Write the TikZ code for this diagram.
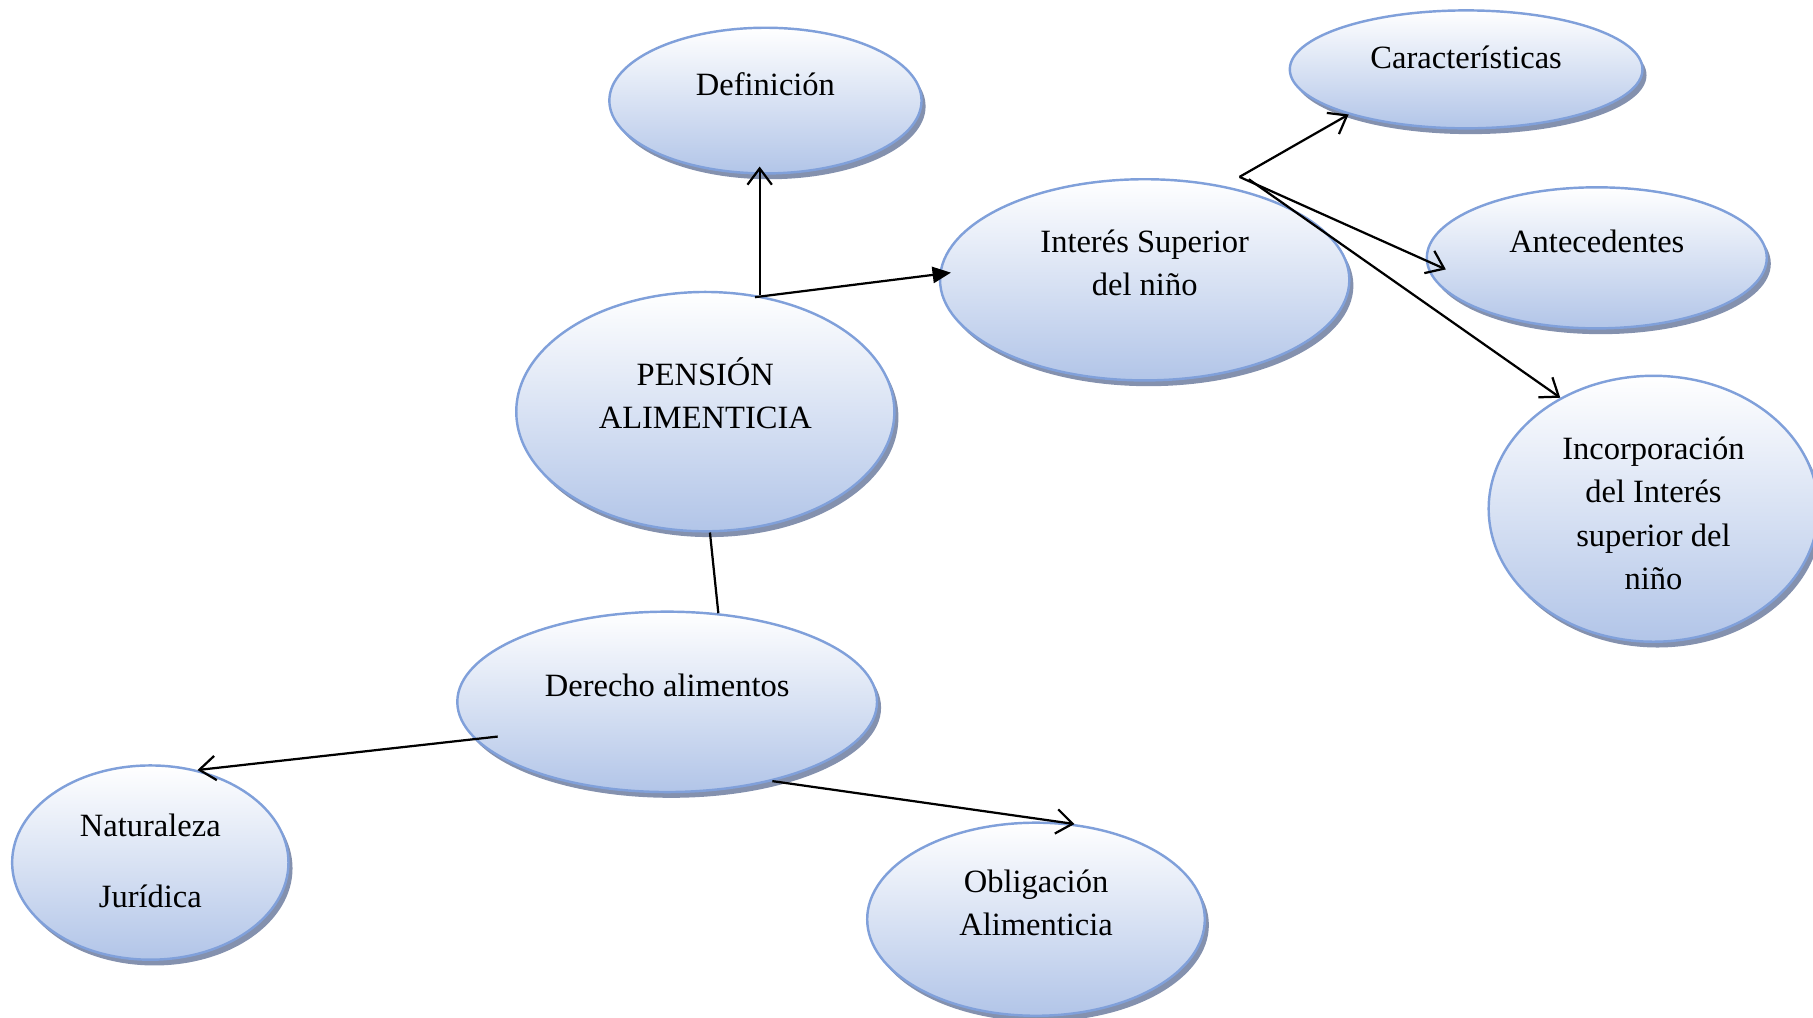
\documentclass[tikz,border=0pt]{standalone}
\usepackage{fontspec}
\setmainfont{Liberation Serif}
\usetikzlibrary{arrows.meta,shadows,shapes.geometric}

\definecolor{rimblue}{RGB}{128,160,218}
\definecolor{lowblue}{RGB}{178,197,232}
\definecolor{shadegray}{RGB}{132,145,174}

\tikzset{
  blob/.style={ellipse, draw=rimblue, line width=1.2pt, top color=white, bottom color=lowblue,
    drop shadow={shadow xshift=0.07cm, shadow yshift=-0.1cm, fill=shadegray, opacity=1}},
  txt/.style={align=center, font=\fontsize{16}{21}\selectfont},
  link/.style={line width=1.1pt, -{Straight Barb[length=8pt,width=12pt]}},
  plain/.style={line width=1.1pt}
}

\begin{document}
\begin{tikzpicture}
\useasboundingbox (0,0) rectangle (31.36,-17.6);

%ellipses
\node [blob, minimum width=5.4cm, minimum height=2.52cm] (def) at (13.24,-1.74){};
\node [blob, minimum width=6.1cm, minimum height=2.04cm] (car) at (25.36,-1.2){};
\node [blob, minimum width=7.08cm, minimum height=3.48cm] (int) at (19.8,-4.84){};
\node [blob, minimum width=5.88cm, minimum height=2.44cm] (ant) at (27.62,-4.46){};
\node [blob, minimum width=5.7cm, minimum height=4.6cm] (inc) at (28.6,-8.8){};
\node [blob, minimum width=6.54cm, minimum height=4.14cm] (pen) at (12.2,-7.12){};
\node [blob, minimum width=7.26cm, minimum height=3.12cm] (der) at (11.54,-12.14){};
\node [blob, minimum width=4.78cm, minimum height=3.36cm] (nat) at (2.6,-14.92){};
\node [blob, minimum width=5.84cm, minimum height=3.34cm] (obl) at (17.92,-15.9){};

%texts
\node [txt] (defT) at (13.24,-1.46){Definición};
\node [txt] (carT) at (25.36,-1.0){Características};
\node [txt] (intT) at (19.8,-4.55){Interés Superior\\del niño};
\node [txt] (antT) at (27.62,-4.18){Antecedentes};
\node [txt, font=\fontsize{16}{21.2}\selectfont] (incT) at (28.6,-8.88){Incorporación\\del Interés\\superior del\\niño};
\node [txt] (penT) at (12.2,-6.8){PENSIÓN\\ALIMENTICIA};
\node [txt] (derT) at (11.54,-11.86){Derecho alimentos};
\node [txt, font=\fontsize{16}{35}\selectfont] (natT) at (2.6,-14.89){Naturaleza\\Jurídica};
\node [txt] (oblT) at (17.92,-15.62){Obligación\\Alimenticia};

% junction points
\coordinate (up) at (13.14,-5.1);
\coordinate (fork) at (21.44,-3.06);
\coordinate (fork2) at (21.6,-3.1);

% connectors
\draw [link] (up) -- ([yshift=0.14cm]up |- def.south);
\draw [plain, -{Triangle[length=9pt,width=8pt]}] ([shift={(-0.08,-0.04)}]up) -- ([xshift=0.2cm]int.178);
\draw [link] (fork) -- (car.201);
\draw [link] (fork) -- ([shift={(0.35,-0.2)}]ant.west);
\draw [link] (fork2) -- (inc.130);
\draw [plain] ([xshift=0.08cm]pen.south) -- (der.60);
\draw [link] ([shift={(0.72,-0.6)}]der.west) -- (nat.63);
\draw [link] (der.-37) -- (obl.68);
\end{tikzpicture}
\end{document}
